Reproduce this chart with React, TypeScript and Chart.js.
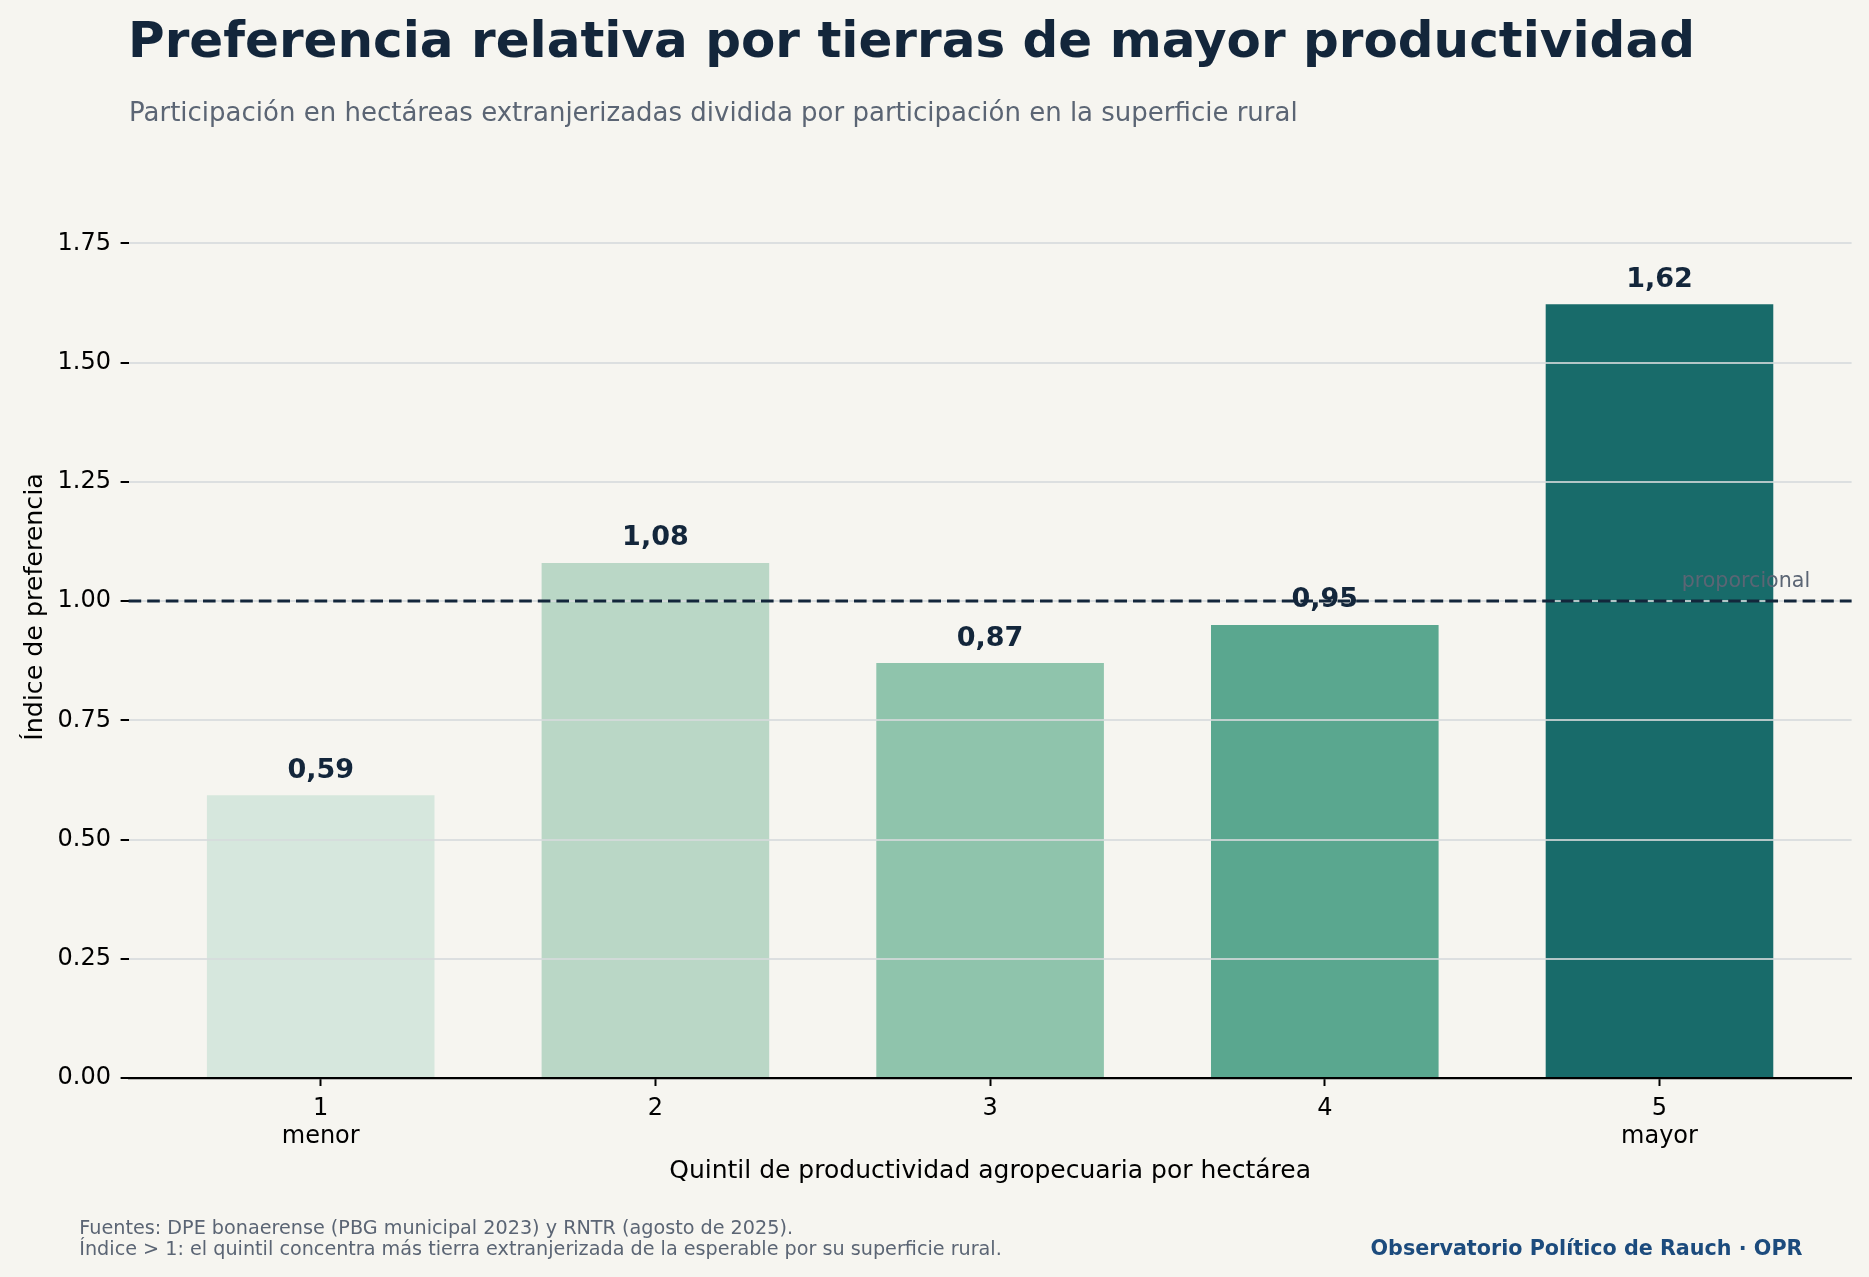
import { useEffect, useRef } from 'react'
import { Chart, registerables } from 'chart.js'

Chart.register(...registerables)

// Datos
const quintiles = [1, 2, 3, 4, 5]
const indexValues = [0.593, 1.08, 0.87, 0.95, 1.622]
const tickLabels: (string | string[])[] = [['1', 'menor'], '2', '3', '4', ['5', 'mayor']]
const yTicks = [0, 0.25, 0.5, 0.75, 1, 1.25, 1.5, 1.75]
const barColors = ['#d6e7dd', '#bad7c6', '#8fc4ac', '#5aa78f', '#186b6a']
const referenceLevel = 1
const referenceLabel = 'proporcional'
const referenceLabelPos = { x: 5.45, y: 1.03 }

const FONT = '"DejaVu Sans", sans-serif'
const NAVY = '#13263b'
const GREY = '#5b6574'
const BG = '#f6f5f0'

const annotations = {
    id: 'annotations',
    afterDraw(chart: Chart) {
        const { ctx, chartArea } = chart
        const x = chart.scales.x
        const y = chart.scales.y
        const yRef = y.getPixelForValue(referenceLevel)

        ctx.save()
        // línea de referencia (índice = 1)
        ctx.strokeStyle = NAVY
        ctx.lineWidth = 3
        ctx.setLineDash([12.6, 6])
        ctx.beginPath()
        ctx.moveTo(chartArea.left, yRef)
        ctx.lineTo(chartArea.right, yRef)
        ctx.stroke()
        ctx.setLineDash([])

        ctx.fillStyle = GREY
        ctx.font = `20.6px ${FONT}`
        ctx.textAlign = 'right'
        ctx.textBaseline = 'alphabetic'
        ctx.fillText(referenceLabel, x.getPixelForValue(referenceLabelPos.x), y.getPixelForValue(referenceLabelPos.y))

        // etiquetas de valor
        const meta = chart.getDatasetMeta(0)
        ctx.fillStyle = NAVY
        ctx.font = `bold 27px ${FONT}`
        ctx.textAlign = 'center'
        ctx.textBaseline = 'middle'
        meta.data.forEach((bar: any, i: number) => {
            ctx.fillText(indexValues[i].toFixed(2).replace('.', ','), bar.x, bar.y - 24.5)
        })
        ctx.restore()
    }
}

export default function App() {
    const chartRef = useRef<HTMLCanvasElement>(null)
    const chartInstance = useRef<Chart | null>(null)

    useEffect(() => {
        document.body.style.margin = '0'
        document.body.style.background = BG
        if (!chartRef.current) return
        if (chartInstance.current) chartInstance.current.destroy()

        chartInstance.current = new Chart(chartRef.current, {
            type: 'bar',
            data: {
                datasets: [{
                    label: 'Índice de preferencia',
                    data: quintiles.map((q, i) => ({ x: q, y: indexValues[i] })),
                    backgroundColor: barColors,
                    borderWidth: 0,
                    barPercentage: 0.68,
                    categoryPercentage: 1
                }]
            },
            options: {
                responsive: false,
                animation: false,
                devicePixelRatio: 1,
                layout: { padding: { top: 136, right: 17.4, bottom: 0, left: 0 } },
                plugins: {
                    legend: { display: false },
                    tooltip: { enabled: false }
                },
                scales: {
                    x: {
                        type: 'linear',
                        offset: false,
                        min: 0.426,
                        max: 5.574,
                        afterBuildTicks: (s: any) => { s.ticks = quintiles.map(v => ({ value: v })) },
                        afterFit: (s: any) => { s.height = 199 },
                        border: { display: true, color: '#000', width: 2.2, z: 2 },
                        grid: {
                            display: true,
                            offset: false,
                            drawOnChartArea: false,
                            drawTicks: true,
                            tickLength: 8,
                            tickColor: '#000',
                            tickWidth: 2
                        },
                        ticks: {
                            autoSkip: false,
                            maxRotation: 0,
                            padding: 8.5,
                            color: '#000',
                            font: { family: FONT, size: 24, lineHeight: 1.17 },
                            callback: (_v: any, i: number) => tickLabels[i]
                        },
                        title: {
                            display: true,
                            text: 'Quintil de productividad agropecuaria por hectárea',
                            color: '#000',
                            font: { family: FONT, size: 25 },
                            padding: { top: 0, bottom: 90.6 }
                        }
                    },
                    y: {
                        min: 0,
                        max: 1.975,
                        afterBuildTicks: (s: any) => { s.ticks = yTicks.map(v => ({ value: v })) },
                        afterFit: (s: any) => { s.width = 128.6 },
                        border: { display: false },
                        grid: {
                            color: 'rgba(214,218,220,0.82)',
                            lineWidth: 2,
                            z: 1,
                            tickLength: 8,
                            tickColor: '#000',
                            tickWidth: 2
                        },
                        ticks: {
                            padding: 9.6,
                            color: '#000',
                            font: { family: FONT, size: 24 },
                            callback: (v: any) => Number(v).toFixed(2)
                        },
                        title: {
                            display: true,
                            text: 'Índice de preferencia',
                            color: '#000',
                            font: { family: FONT, size: 25.3 },
                            padding: { top: 20, bottom: 0 }
                        }
                    }
                }
            },
            plugins: [annotations]
        })

        return () => {
            if (chartInstance.current) {
                chartInstance.current.destroy()
                chartInstance.current = null
            }
        }
    }, [])

    const text = (extra: React.CSSProperties): React.CSSProperties => ({
        position: 'absolute',
        fontFamily: FONT,
        lineHeight: 1,
        whiteSpace: 'nowrap',
        margin: 0,
        ...extra
    })

    return (
        <div style={{ position: 'relative', width: 1869, height: 1277, background: BG, overflow: 'hidden' }}>
            <canvas ref={chartRef} width={1869} height={1277}
                style={{ position: 'absolute', left: 0, top: 0, width: 1869, height: 1277, display: 'block' }}></canvas>
            <div style={text({ left: 128, top: 14.7, fontSize: 50, fontWeight: 'bold', color: NAVY })}>
                Preferencia relativa por tierras de mayor productividad
            </div>
            <div style={text({ left: 129, top: 98.7, fontSize: 26, color: GREY })}>
                Participación en hectáreas extranjerizadas dividida por participación en la superficie rural
            </div>
            <div style={text({ left: 79.3, top: 1218.1, fontSize: 19.2, color: GREY })}>
                Fuentes: DPE bonaerense (PBG municipal 2023) y RNTR (agosto de 2025).
            </div>
            <div style={text({ left: 79.3, top: 1238.8, fontSize: 19.2, color: GREY })}>
                Índice &gt; 1: el quintil concentra más tierra extranjerizada de la esperable por su superficie rural.
            </div>
            <div style={text({ right: 66.5, top: 1237.5, fontSize: 20.7, fontWeight: 'bold', color: '#1c4b7d', textAlign: 'right' })}>
                Observatorio Político de Rauch · OPR
            </div>
        </div>
    )
}
